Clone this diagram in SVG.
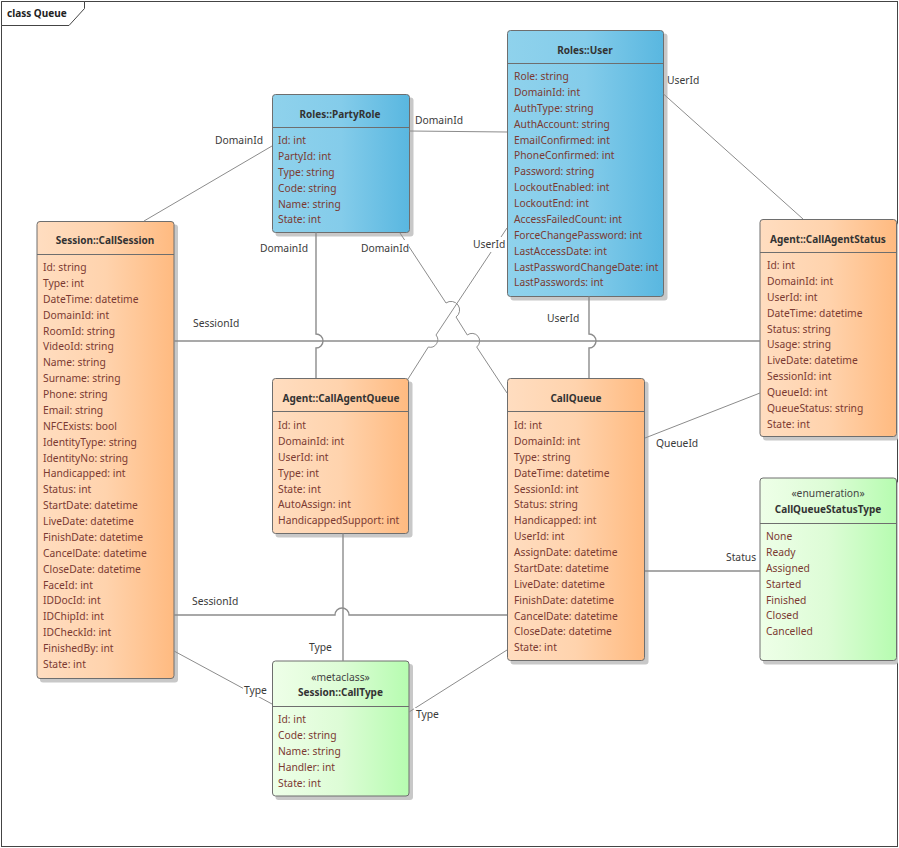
<svg xmlns="http://www.w3.org/2000/svg" width="899" height="848" viewBox="0 0 899 848">
<style>
text{font-family:"Noto Sans","Open Sans","DejaVu Sans",sans-serif;font-size:10.3px;fill:#3a3a3a}
.t{font-weight:700;font-size:10px;text-anchor:middle;fill:#333}
.s{text-anchor:middle;fill:#444}
.a{fill:#7b3a32}
.b{stroke:#6e6e6e;stroke-width:1}
.sh{fill:#c8c8c8}
.c{fill:none;stroke:#8c8c8c;stroke-width:1}
.hv{fill:none;stroke:#8c8c8c;stroke-width:1.400}
.lb{fill:#fff}
</style>
<defs>
<linearGradient id="blue"><stop offset="0" stop-color="#8FD2EC"/><stop offset="0.5" stop-color="#84CCEA"/><stop offset="1" stop-color="#59B7E0"/></linearGradient>
<linearGradient id="orange"><stop offset="0" stop-color="#FFDDC0"/><stop offset="0.5" stop-color="#FFD3AD"/><stop offset="1" stop-color="#FFBA80"/></linearGradient>
<linearGradient id="green"><stop offset="0" stop-color="#EEFFE8"/><stop offset="0.5" stop-color="#DDFCD6"/><stop offset="1" stop-color="#B6FCB0"/></linearGradient>
</defs>
<rect width="899" height="848" fill="#fff"/>
<g id="frame">
<rect x="1.500" y="1.500" width="896" height="845" fill="#fff" stroke="#444" stroke-width="1"/>
<path d="M1.500 1.500H84.500V8.500L69 25.500H1.500Z" fill="#fff" stroke="#444" stroke-width="1"/>
<text x="7" y="17" style="font-weight:700;font-size:10px;fill:#222">class Queue</text>
</g>
<g id="CallSession">
<rect class="sh" x="40" y="224.500" width="138" height="458" rx="3"/>
<rect class="b" x="37" y="221.500" width="137" height="457" rx="3" fill="url(#orange)"/>
<path class="b" d="M37 254.500H174"/>
<text class="t" x="105" y="244">Session::CallSession</text>
<text class="a"><tspan x="43" y="271">Id: string</tspan><tspan x="43" dy="15.88">Type: int</tspan><tspan x="43" dy="15.88">DateTime: datetime</tspan><tspan x="43" dy="15.88">DomainId: int</tspan><tspan x="43" dy="15.88">RoomId: string</tspan><tspan x="43" dy="15.88">VideoId: string</tspan><tspan x="43" dy="15.88">Name: string</tspan><tspan x="43" dy="15.88">Surname: string</tspan><tspan x="43" dy="15.88">Phone: string</tspan><tspan x="43" dy="15.88">Email: string</tspan><tspan x="43" dy="15.88">NFCExists: bool</tspan><tspan x="43" dy="15.88">IdentityType: string</tspan><tspan x="43" dy="15.88">IdentityNo: string</tspan><tspan x="43" dy="15.88">Handicapped: int</tspan><tspan x="43" dy="15.88">Status: int</tspan><tspan x="43" dy="15.88">StartDate: datetime</tspan><tspan x="43" dy="15.88">LiveDate: datetime</tspan><tspan x="43" dy="15.88">FinishDate: datetime</tspan><tspan x="43" dy="15.88">CancelDate: datetime</tspan><tspan x="43" dy="15.88">CloseDate: datetime</tspan><tspan x="43" dy="15.88">FaceId: int</tspan><tspan x="43" dy="15.88">IDDocId: int</tspan><tspan x="43" dy="15.88">IDChipId: int</tspan><tspan x="43" dy="15.88">IDCheckId: int</tspan><tspan x="43" dy="15.88">FinishedBy: int</tspan><tspan x="43" dy="15.88">State: int</tspan></text>
</g>
<g id="PartyRole">
<rect class="sh" x="275.500" y="97.500" width="138" height="139" rx="3"/>
<rect class="b" x="272.500" y="94.500" width="137" height="138" rx="3" fill="url(#blue)"/>
<path class="b" d="M272.500 127.500H409.500"/>
<text class="t" x="340" y="118">Roles::PartyRole</text>
<text class="a"><tspan x="278" y="144">Id: int</tspan><tspan x="278" dy="15.88">PartyId: int</tspan><tspan x="278" dy="15.88">Type: string</tspan><tspan x="278" dy="15.88">Code: string</tspan><tspan x="278" dy="15.88">Name: string</tspan><tspan x="278" dy="15.88">State: int</tspan></text>
</g>
<g id="User">
<rect class="sh" x="510.500" y="33.500" width="157" height="267" rx="3"/>
<rect class="b" x="507.500" y="30.500" width="156" height="266" rx="3" fill="url(#blue)"/>
<path class="b" d="M507.500 63.500H663.500"/>
<text class="t" x="585" y="54">Roles::User</text>
<text class="a"><tspan x="514" y="80">Role: string</tspan><tspan x="514" dy="15.88">DomainId: int</tspan><tspan x="514" dy="15.88">AuthType: string</tspan><tspan x="514" dy="15.88">AuthAccount: string</tspan><tspan x="514" dy="15.88">EmailConfirmed: int</tspan><tspan x="514" dy="15.88">PhoneConfirmed: int</tspan><tspan x="514" dy="15.88">Password: string</tspan><tspan x="514" dy="15.88">LockoutEnabled: int</tspan><tspan x="514" dy="15.88">LockoutEnd: int</tspan><tspan x="514" dy="15.88">AccessFailedCount: int</tspan><tspan x="514" dy="15.88">ForceChangePassword: int</tspan><tspan x="514" dy="15.88">LastAccessDate: int</tspan><tspan x="514" dy="15.88">LastPasswordChangeDate: int</tspan><tspan x="514" dy="15.88">LastPasswords: int</tspan></text>
</g>
<g id="CallAgentQueue">
<rect class="sh" x="275.500" y="381.500" width="137" height="156" rx="3"/>
<rect class="b" x="272.500" y="378.500" width="136" height="155" rx="3" fill="url(#orange)"/>
<path class="b" d="M272.500 411.500H408.500"/>
<text class="t" x="341" y="402">Agent::CallAgentQueue</text>
<text class="a"><tspan x="278" y="429">Id: int</tspan><tspan x="278" dy="15.88">DomainId: int</tspan><tspan x="278" dy="15.88">UserId: int</tspan><tspan x="278" dy="15.88">Type: int</tspan><tspan x="278" dy="15.88">State: int</tspan><tspan x="278" dy="15.88">AutoAssign: int</tspan><tspan x="278" dy="15.88">HandicappedSupport: int</tspan></text>
</g>
<g id="CallQueue">
<rect class="sh" x="510.500" y="381.500" width="138" height="283" rx="3"/>
<rect class="b" x="507.500" y="378.500" width="137" height="282" rx="3" fill="url(#orange)"/>
<path class="b" d="M507.500 411.500H644.500"/>
<text class="t" x="576" y="402">CallQueue</text>
<text class="a"><tspan x="514" y="429">Id: int</tspan><tspan x="514" dy="15.88">DomainId: int</tspan><tspan x="514" dy="15.88">Type: string</tspan><tspan x="514" dy="15.88">DateTime: datetime</tspan><tspan x="514" dy="15.88">SessionId: int</tspan><tspan x="514" dy="15.88">Status: string</tspan><tspan x="514" dy="15.88">Handicapped: int</tspan><tspan x="514" dy="15.88">UserId: int</tspan><tspan x="514" dy="15.88">AssignDate: datetime</tspan><tspan x="514" dy="15.88">StartDate: datetime</tspan><tspan x="514" dy="15.88">LiveDate: datetime</tspan><tspan x="514" dy="15.88">FinishDate: datetime</tspan><tspan x="514" dy="15.88">CancelDate: datetime</tspan><tspan x="514" dy="15.88">CloseDate: datetime</tspan><tspan x="514" dy="15.88">State: int</tspan></text>
</g>
<g id="CallAgentStatus">
<rect class="sh" x="763" y="222.500" width="135" height="218" rx="3"/>
<rect class="b" x="760" y="219.500" width="136.500" height="217" rx="3" fill="url(#orange)"/>
<path class="b" d="M760 252.500H896.500"/>
<text class="t" x="828" y="243">Agent::CallAgentStatus</text>
<text class="a"><tspan x="767" y="269">Id: int</tspan><tspan x="767" dy="15.88">DomainId: int</tspan><tspan x="767" dy="15.88">UserId: int</tspan><tspan x="767" dy="15.88">DateTime: datetime</tspan><tspan x="767" dy="15.88">Status: string</tspan><tspan x="767" dy="15.88">Usage: string</tspan><tspan x="767" dy="15.88">LiveDate: datetime</tspan><tspan x="767" dy="15.88">SessionId: int</tspan><tspan x="767" dy="15.88">QueueId: int</tspan><tspan x="767" dy="15.88">QueueStatus: string</tspan><tspan x="767" dy="15.88">State: int</tspan></text>
</g>
<g id="CallQueueStatusType">
<rect class="sh" x="763" y="481" width="135" height="183.500" rx="3"/>
<rect class="b" x="760" y="478" width="136.500" height="182.500" rx="3" fill="url(#green)"/>
<path class="b" d="M760 523.500H896.500"/>
<text class="s" x="828" y="497">«enumeration»</text>
<text class="t" x="828" y="513">CallQueueStatusType</text>
<text class="a"><tspan x="766" y="540">None</tspan><tspan x="766" dy="15.88">Ready</tspan><tspan x="766" dy="15.88">Assigned</tspan><tspan x="766" dy="15.88">Started</tspan><tspan x="766" dy="15.88">Finished</tspan><tspan x="766" dy="15.88">Closed</tspan><tspan x="766" dy="15.88">Cancelled</tspan></text>
</g>
<g id="CallType">
<rect class="sh" x="275.500" y="664" width="137.500" height="136" rx="3"/>
<rect class="b" x="272.500" y="661" width="136.500" height="135" rx="3" fill="url(#green)"/>
<path class="b" d="M272.500 706.500H409"/>
<text class="s" x="340.500" y="681">«metaclass»</text>
<text class="t" x="340.500" y="696">Session::CallType</text>
<text class="a"><tspan x="278" y="723">Id: int</tspan><tspan x="278" dy="15.88">Code: string</tspan><tspan x="278" dy="15.88">Name: string</tspan><tspan x="278" dy="15.88">Handler: int</tspan><tspan x="278" dy="15.88">State: int</tspan></text>
</g>
<g id="connectors">
<path class="c" d="M144 221L272 146"/>
<path class="c" d="M409.500 131L507 132"/>
<path class="c" d="M663.500 94L803 219"/>
<path class="hv" d="M174 341H760"/>
<path class="hv" d="M316 232.500V334A7 7 0 0 1 316 348V378"/>
<path class="hv" d="M589 296.500V334A7 7 0 0 1 589 348V378"/>
<path class="c" d="M400 233L446 303A7.500 7.500 0 0 1 456 317L467.300 335A7.500 7.500 0 0 1 476.700 347L507 393"/>
<path class="c" d="M408 379L428.300 347A7.500 7.500 0 0 0 436 335L507 228"/>
<path class="hv" d="M174 615H335A7 7 0 0 1 349 615H507"/>
<path class="hv" d="M343 533.500V661"/>
<path class="c" d="M174 651L272 704"/>
<path class="c" d="M507 650L409 712"/>
<path class="c" d="M645 438L760 393"/>
<path class="hv" d="M645 571H760"/>
<rect class="lb" x="358" y="240" width="51" height="15"/>
<rect class="lb" x="470" y="237" width="37" height="15"/>
<rect class="lb" x="243" y="684" width="28" height="13"/>
<rect class="lb" x="414" y="708" width="29" height="13"/>
</g>
<g id="labels">
<text x="215" y="144">DomainId</text>
<text x="415" y="124">DomainId</text>
<text x="667" y="84">UserId</text>
<text x="260" y="252">DomainId</text>
<text x="361" y="252">DomainId</text>
<text x="473" y="248">UserId</text>
<text x="193" y="327">SessionId</text>
<text x="547" y="322">UserId</text>
<text x="192" y="605">SessionId</text>
<text x="309" y="651">Type</text>
<text x="244" y="694">Type</text>
<text x="416" y="718">Type</text>
<text x="726" y="561">Status</text>
<text x="656" y="447">QueueId</text>
</g>
</svg>
